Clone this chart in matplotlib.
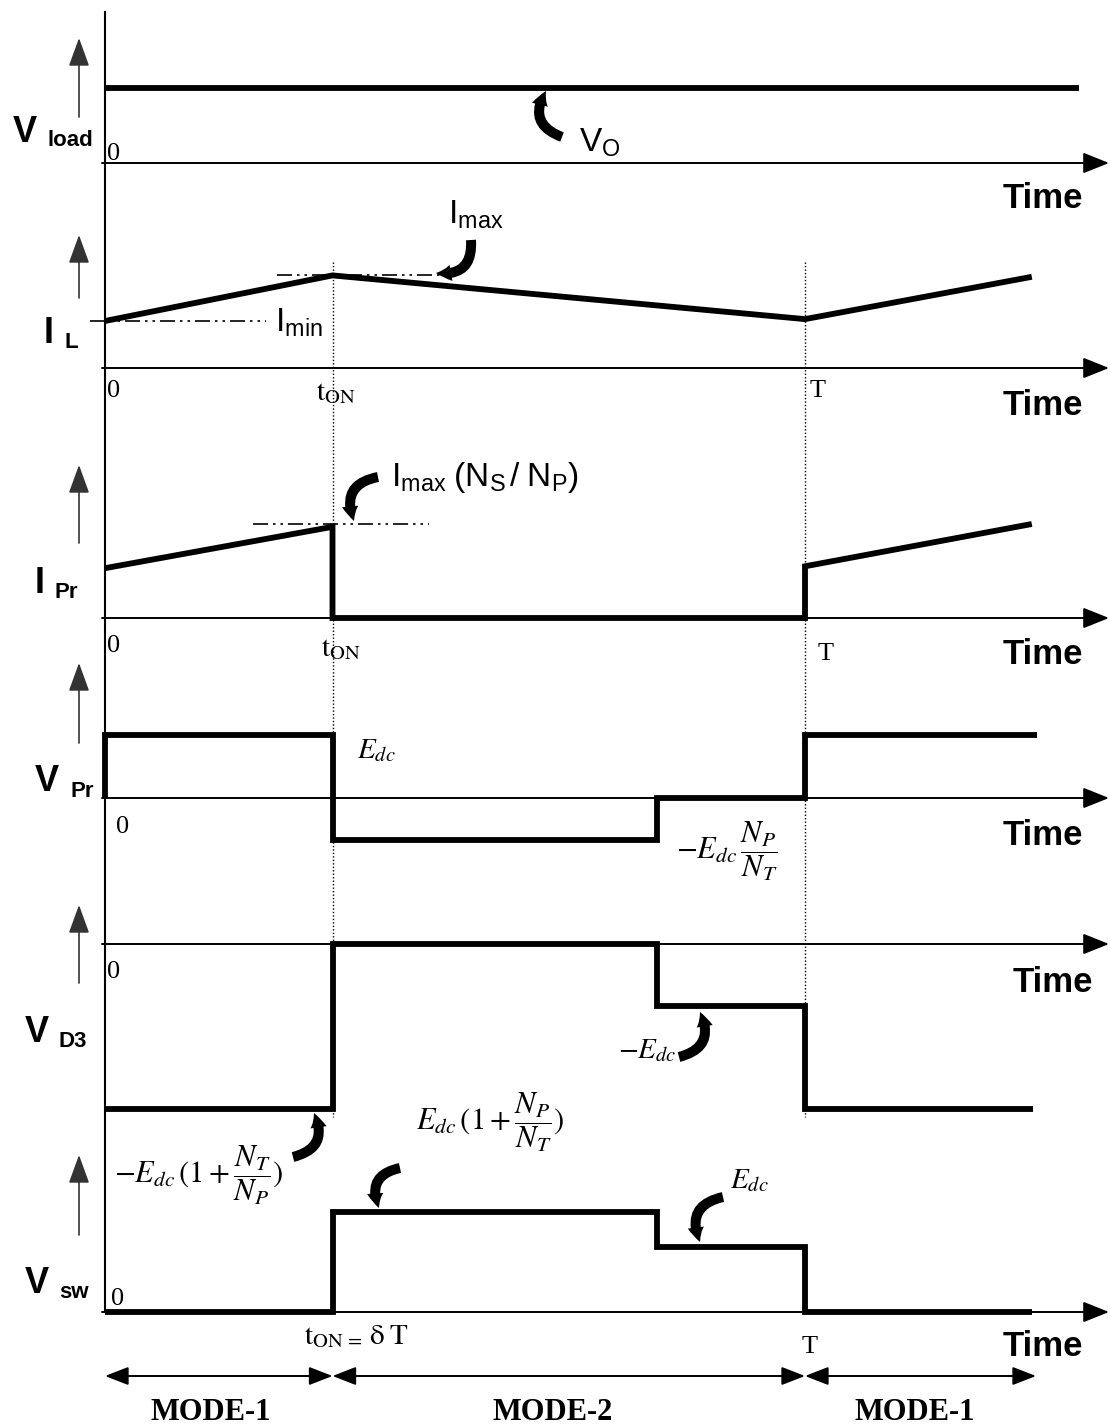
import numpy as np
import matplotlib.pyplot as plt
from matplotlib.patches import FancyArrowPatch

plt.rcParams['font.family'] = 'Liberation Sans'
plt.rcParams['mathtext.fontset'] = 'stix'

#%% waveform data (time normalised to the switching period T)
t_on = 0.325
t_step = 0.789
T = 1.0

vload_t = [0, 1.391]
vload_v = [1.0, 1.0]

il_t = [0, t_on, T, 1.324]
il_v = [1.0, 1.97, 1.04, 1.94]
imin = 1.0
imax = 1.97

ipr_t = [0, t_on, t_on, T, T, 1.324]
ipr_v = [1.06, 1.94, 0, 0, 1.1, 2.0]
ipr_max = 2.0

vpr_t = [0, 0, t_on, t_on, t_step, t_step, T, T, 1.331]
vpr_v = [0, 1.0, 1.0, -0.67, -0.67, 0, 0, 1.0, 1.0]

vd3_t = [0, t_on, t_on, t_step, t_step, T, T, 1.326]
vd3_v = [-2.62, -2.62, 0, 0, -0.98, -0.98, -2.62, -2.62]

vsw_t = [0, t_on, t_on, t_step, t_step, T, T, 1.324]
vsw_v = [0, 0, 1.59, 1.59, 1.03, 1.03, 0, 0]

#%% layout
fig = plt.figure(figsize=(11.1, 14.28), dpi=100)
ax = fig.add_axes([0, 0, 1, 1])
X0, XS = 105, 700        # pixel column of t=0, pixels per period
ax.set_xlim(-X0 / XS, (1110 - X0) / XS)
ax.set_ylim(1428, 0)
ax.axis('off')


def px(x):
    # pixel column -> time units
    return (x - X0) / XS


base = {'vload': 163, 'il': 368, 'ipr': 618, 'vpr': 798, 'vd3': 944, 'vsw': 1312}
scale = {'vload': 75, 'il': 47, 'ipr': 47, 'vpr': 63, 'vd3': 63, 'vsw': 63}


def lvl(key, v):
    return base[key] - scale[key] * np.asarray(v, dtype=float)


#%% axes lines
ax.plot([0, 0], [12, base['vsw']], color='k', lw=1.5)
t_tip = px(1109)
for key in base:
    ax.annotate('', xy=(t_tip, base[key]), xytext=(px(102), base[key]),
                arrowprops=dict(arrowstyle='-|>,head_length=1.0,head_width=0.4',
                                mutation_scale=16, lw=1.4, color='k',
                                shrinkA=0, shrinkB=0))

# small "up" arrows left of each trace
up_arrows = [(117, 38), (298, 235), (543, 465), (743, 663), (983, 905), (1235, 1155)]
for tail, tip in up_arrows:
    ax.annotate('', xy=(px(79), tip), xytext=(px(79), tail),
                arrowprops=dict(arrowstyle='-|>,head_length=1.1,head_width=0.4',
                                mutation_scale=16, lw=1.2, color='#333333',
                                shrinkA=0, shrinkB=0))

# dotted markers at t_on and T
for tt in (t_on, T):
    ax.plot([tt, tt], [262, 1117], color='k', lw=1.0, ls=(0, (1, 1.5)))

#%% waveforms
traces = [('vload', vload_t, vload_v), ('il', il_t, il_v), ('ipr', ipr_t, ipr_v),
          ('vpr', vpr_t, vpr_v), ('vd3', vd3_t, vd3_v), ('vsw', vsw_t, vsw_v)]
for key, t, v in traces:
    ax.plot(t, lvl(key, v), color='k', lw=4.2, solid_joinstyle='miter',
            solid_capstyle='butt')

dashdot = (0, (9, 3, 1.5, 3, 1.5, 3))
ax.plot([px(90), px(266)], lvl('il', [imin, imin]), color='k', lw=1.2, ls=dashdot)
ax.plot([px(277), px(454)], lvl('il', [imax, imax]), color='k', lw=1.2, ls=dashdot)
ax.plot([px(253), px(429)], lvl('ipr', [ipr_max, ipr_max]), color='k', lw=1.2, ls=dashdot)

#%% left labels
side = [('V', 'load', 13, 142, 48, 146), ('I', 'L', 44, 343, 65, 348),
        ('I', 'Pr', 35, 593, 55, 598), ('V', 'Pr', 35, 791, 71, 797),
        ('V', 'D3', 25, 1042, 59, 1047), ('V', 'sw', 25, 1293, 59, 1298)]
for big, small, x1, y1, x2, y2 in side:
    ax.text(px(x1), y1, big, fontsize=26, fontweight='bold', va='baseline')
    ax.text(px(x2), y2, small, fontsize=16, fontweight='bold', va='baseline')

serif = 'Liberation Serif'
zeros = [(107, 160), (107, 397), (107, 652), (116, 833), (107, 978), (111, 1305)]
for x, y in zeros:
    ax.text(px(x), y, '0', fontsize=19, family=serif, va='baseline')

for x, y in [(316, 400), (321, 656)]:
    ax.text(px(x), y, r'$\mathrm{t_{ON}}$', fontsize=21, va='baseline')
ax.text(px(304), 1344, r'$\mathrm{t_{ON\,=}\,\delta\;T}$', fontsize=21, va='baseline')
for x, y in [(810, 397), (818, 660), (802, 1353)]:
    ax.text(px(x), y, 'T', fontsize=19, family=serif, va='baseline')

times = [(1083, 208), (1083, 415), (1083, 664), (1083, 845), (1093, 992), (1083, 1356)]
for x, y in times:
    ax.text(px(x), y, 'Time', fontsize=25, fontweight='bold', ha='right', va='baseline')

#%% annotations
ax.text(px(579), 152, r'$\mathregular{V_O}$', fontsize=24, va='baseline')
ax.text(px(448), 224, r'$\mathregular{I_{max}}$', fontsize=24, va='baseline')
ax.text(px(275), 332, r'$\mathregular{I_{min}}$', fontsize=24, va='baseline')
ax.text(px(391), 486, r'$\mathregular{I_{max}\ (N_S\,/\ N_P)}$', fontsize=24, va='baseline')

ax.text(px(357), 758, r'$E_{dc}$', fontsize=21, va='baseline')
ax.text(px(676), 851, r'$-E_{dc}\,\dfrac{N_P}{N_T}$', fontsize=22, va='center')
ax.text(px(618), 1058, r'$-E_{dc}$', fontsize=21, va='baseline')
ax.text(px(114), 1175, r'$-E_{dc}\,(1+\dfrac{N_T}{N_P})$', fontsize=22, va='center')
ax.text(px(416), 1122, r'$E_{dc}\,(1+\dfrac{N_P}{N_T})$', fontsize=22, va='center')
ax.text(px(730), 1188, r'$E_{dc}$', fontsize=21, va='baseline')

# bold curved pointers (tail, tip, bend)
pointers = [((562, 137), (546, 91), -0.6), ((471, 240), (436, 273), -0.6),
            ((378, 477), (354, 521), 0.6), ((679, 1057), (700, 1012), 0.6),
            ((293, 1157), (314, 1113), 0.6), ((400, 1168), (379, 1208), 0.6),
            ((723, 1197), (700, 1242), 0.6)]
for (xa, ya), (xb, yb), rad in pointers:
    ax.add_patch(FancyArrowPatch((px(xa), ya), (px(xb), yb),
                                 connectionstyle='arc3,rad=%s' % rad,
                                 arrowstyle='simple,head_length=1.2,head_width=1.3,tail_width=0.8',
                                 mutation_scale=9, color='k', lw=0,
                                 shrinkA=0, shrinkB=0))

#%% operating modes
modes = [('MODE-1', 0, t_on), ('MODE-2', t_on, T), ('MODE-1', T, 1.33)]
for name, a, b in modes:
    ax.annotate('', xy=(b, 1376), xytext=(a, 1376),
                arrowprops=dict(arrowstyle='<|-|>,head_length=0.9,head_width=0.35',
                                mutation_scale=16, lw=1.4, color='k',
                                shrinkA=0, shrinkB=0))
mode_x = [211, 553, 915]
for (name, a, b), x in zip(modes, mode_x):
    ax.text(px(x), 1420, name, fontsize=22, family=serif, fontweight='bold',
            ha='center', va='baseline')

plt.savefig('out.png', dpi=100)
